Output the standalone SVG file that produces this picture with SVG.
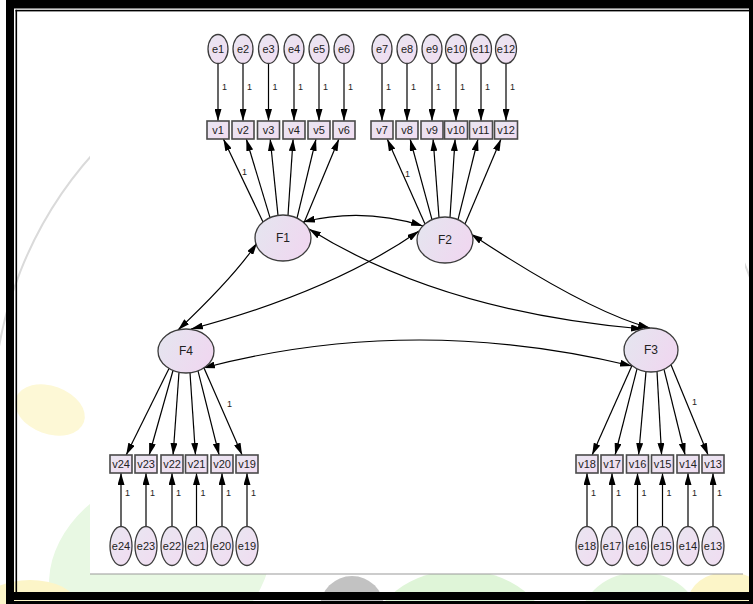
<svg xmlns="http://www.w3.org/2000/svg" width="753" height="604" viewBox="0 0 753 604">
  <defs>
    <linearGradient id="gLat" x1="0" y1="0" x2="1" y2="0.4">
      <stop offset="0" stop-color="#e4e6ef"/>
      <stop offset="1" stop-color="#efd8f0"/>
    </linearGradient>
    <linearGradient id="gObs" x1="0" y1="0" x2="1" y2="1">
      <stop offset="0" stop-color="#e9e6f1"/>
      <stop offset="1" stop-color="#f1dcf1"/>
    </linearGradient>
    <marker id="ah" viewBox="0 0 12 7" refX="12" refY="3.5" markerWidth="12" markerHeight="7" markerUnits="userSpaceOnUse" orient="auto-start-reverse">
      <path d="M0,0 L12,3.5 L0,7 z" fill="#000"/>
    </marker>
    <clipPath id="page"><rect x="0" y="0" width="753" height="604"/></clipPath>
  </defs>
  <style>
    .lat { fill: url(#gLat); stroke: #3c3c3c; stroke-width: 1.3; }
    .err { fill: url(#gObs); stroke: #3c3c3c; stroke-width: 1.3; }
    .obs { fill: url(#gObs); stroke: #4a4a4a; stroke-width: 1.6; }
    text { font-family: "Liberation Sans", Arial, sans-serif; fill: #222; }
    .t { font-size: 11px; text-anchor: middle; }
    .tf { font-size: 12px; text-anchor: middle; }
    .one { font-size: 9px; }
    .ln { fill: none; stroke: #000; stroke-width: 1.2; marker-end: url(#ah); }
    .cov { fill: none; stroke: #000; stroke-width: 1.2; marker-start: url(#ah); marker-end: url(#ah); }
  </style>

  <!-- page background with faint watermark -->
  <rect x="0" y="0" width="753" height="604" fill="#ffffff"/>
  <g id="watermark" clip-path="url(#page)">
    <path d="M-7,415 A391,391 0 0 1 775,415" fill="none" stroke="#dadada" stroke-width="2"/>
    <ellipse cx="50" cy="410" rx="36" ry="24" transform="rotate(20 50 410)" fill="#fdf8d6"/>
    <ellipse cx="160" cy="565" rx="115" ry="90" transform="rotate(-25 160 565)" fill="#e8f8e3"/>
    <circle cx="352" cy="608" r="32" fill="#c2c2c2"/>
    <ellipse cx="460" cy="640" rx="90" ry="70" fill="#dff5d8"/>
    <ellipse cx="640" cy="622" rx="60" ry="50" fill="#e3f6dd"/>
    <ellipse cx="728" cy="602" rx="40" ry="30" fill="#fcf5c8"/>
    <ellipse cx="30" cy="602" rx="45" ry="22" fill="#fcf5c8"/>
  </g>

  <!-- diagram sheet -->
  <rect x="90" y="11" width="655" height="563" fill="#ffffff"/>
  <line x1="90" y1="574" x2="743" y2="574" stroke="#9a9a9a" stroke-width="1.2"/>

  <!-- frame -->
  <g id="frame" fill="#000">
    <rect x="6" y="0" width="747" height="8.5"/>
    <rect x="6" y="0" width="8" height="604"/>
    <rect x="6" y="592" width="747" height="8"/>
    <rect x="6" y="601" width="747" height="3"/>
    <rect x="749" y="0" width="4" height="604"/>
    <rect x="15.5" y="9.8" width="733.5" height="1.6"/>
    <rect x="15.5" y="9.8" width="1.6" height="582.2"/>
  </g>

  <!-- connectors -->
  <g id="connectors">
    <!-- error terms to indicators -->
    <path class="ln" d="M218,63.5 L218,121"/>
    <path class="ln" d="M243,63.5 L243,121"/>
    <path class="ln" d="M268.5,63.5 L268.5,121"/>
    <path class="ln" d="M294,63.5 L294,121"/>
    <path class="ln" d="M319,63.5 L319,121"/>
    <path class="ln" d="M344,63.5 L344,121"/>
    <path class="ln" d="M382,63.5 L382,121"/>
    <path class="ln" d="M407,63.5 L407,121"/>
    <path class="ln" d="M432,63.5 L432,121"/>
    <path class="ln" d="M456,63.5 L456,121"/>
    <path class="ln" d="M481,63.5 L481,121"/>
    <path class="ln" d="M506,63.5 L506,121"/>
    <path class="ln" d="M121,526.5 L121,473"/>
    <path class="ln" d="M146,526.5 L146,473"/>
    <path class="ln" d="M172,526.5 L172,473"/>
    <path class="ln" d="M196.5,526.5 L196.5,473"/>
    <path class="ln" d="M222,526.5 L222,473"/>
    <path class="ln" d="M247,526.5 L247,473"/>
    <path class="ln" d="M587,526.5 L587,473"/>
    <path class="ln" d="M612,526.5 L612,473"/>
    <path class="ln" d="M637.5,526.5 L637.5,473"/>
    <path class="ln" d="M662.5,526.5 L662.5,473"/>
    <path class="ln" d="M688,526.5 L688,473"/>
    <path class="ln" d="M713,526.5 L713,473"/>

    <!-- factor loadings -->
    <path class="ln" d="M263,221.9 L223.4,139"/>
    <path class="ln" d="M270,217.6 L246.3,139"/>
    <path class="ln" d="M278,215.4 L270.2,139"/>
    <path class="ln" d="M288,215.4 L293.1,139"/>
    <path class="ln" d="M297,218.1 L316,139"/>
    <path class="ln" d="M304,222.8 L338.9,139"/>

    <path class="ln" d="M425,223.9 L387.2,139"/>
    <path class="ln" d="M432,219.6 L410.1,139"/>
    <path class="ln" d="M439,217.5 L433.1,139"/>
    <path class="ln" d="M450,217.4 L455.1,139"/>
    <path class="ln" d="M458,219.6 L478,139"/>
    <path class="ln" d="M465,223.9 L501,139"/>

    <path class="ln" d="M169,368.5 L126.2,455"/>
    <path class="ln" d="M173,370.5 L149.2,455"/>
    <path class="ln" d="M179,372.3 L173.1,455"/>
    <path class="ln" d="M190,372.8 L195.5,455"/>
    <path class="ln" d="M198,370.9 L219.1,455"/>
    <path class="ln" d="M204,367.9 L242.1,455"/>

    <path class="ln" d="M632,365.6 L592.1,455"/>
    <path class="ln" d="M637,368.8 L615.1,455"/>
    <path class="ln" d="M646,371.6 L638.6,455"/>
    <path class="ln" d="M657,371.4 L661.6,455"/>
    <path class="ln" d="M664,369.3 L685.1,455"/>
    <path class="ln" d="M671,364.8 L708.1,455"/>

    <!-- covariances -->
    <path class="cov" d="M303,222 Q363,207 423,226"/>
    <path class="cov" d="M178,330 Q234,277 257,243"/>
    <path class="cov" d="M419,231 Q331,292 191,329"/>
    <path class="cov" d="M309,229 Q442,312 643,329"/>
    <path class="cov" d="M471,234 Q587,311 650,328"/>
    <path class="cov" d="M203,368 Q413,313 632,366"/>

    <!-- fixed parameter labels -->
    <text class="one" x="222" y="90">1</text>
    <text class="one" x="247" y="90">1</text>
    <text class="one" x="272.5" y="90">1</text>
    <text class="one" x="298" y="90">1</text>
    <text class="one" x="323" y="90">1</text>
    <text class="one" x="348" y="90">1</text>
    <text class="one" x="386" y="90">1</text>
    <text class="one" x="411" y="90">1</text>
    <text class="one" x="436" y="90">1</text>
    <text class="one" x="460" y="90">1</text>
    <text class="one" x="485" y="90">1</text>
    <text class="one" x="510" y="90">1</text>
    <text class="one" x="125" y="496">1</text>
    <text class="one" x="150" y="496">1</text>
    <text class="one" x="176" y="496">1</text>
    <text class="one" x="200.5" y="496">1</text>
    <text class="one" x="226" y="496">1</text>
    <text class="one" x="251" y="496">1</text>
    <text class="one" x="591" y="496">1</text>
    <text class="one" x="616" y="496">1</text>
    <text class="one" x="641.5" y="496">1</text>
    <text class="one" x="666.5" y="496">1</text>
    <text class="one" x="692" y="496">1</text>
    <text class="one" x="717" y="496">1</text>
    <text class="one" x="242" y="175">1</text>
    <text class="one" x="405" y="177">1</text>
    <text class="one" x="227" y="407">1</text>
    <text class="one" x="692" y="405">1</text>
  </g>

  <!-- latent factors -->
  <g id="F1"><ellipse class="lat" cx="283" cy="238" rx="28" ry="23"/><text class="tf" x="283" y="242">F1</text></g>
  <g id="F2"><ellipse class="lat" cx="445" cy="240" rx="28" ry="23"/><text class="tf" x="445" y="244">F2</text></g>
  <g id="F3"><ellipse class="lat" cx="651" cy="350" rx="27" ry="22"/><text class="tf" x="651" y="354">F3</text></g>
  <g id="F4"><ellipse class="lat" cx="186" cy="351" rx="28" ry="22"/><text class="tf" x="186" y="355">F4</text></g>

  <!-- observed indicators, top row -->
  <g id="v1"><rect class="obs" x="207" y="121" width="22" height="18"/><text class="t" x="218" y="134">v1</text></g>
  <g id="v2"><rect class="obs" x="232" y="121" width="22" height="18"/><text class="t" x="243" y="134">v2</text></g>
  <g id="v3"><rect class="obs" x="257.5" y="121" width="22" height="18"/><text class="t" x="268.5" y="134">v3</text></g>
  <g id="v4"><rect class="obs" x="283" y="121" width="22" height="18"/><text class="t" x="294" y="134">v4</text></g>
  <g id="v5"><rect class="obs" x="308" y="121" width="22" height="18"/><text class="t" x="319" y="134">v5</text></g>
  <g id="v6"><rect class="obs" x="333" y="121" width="22" height="18"/><text class="t" x="344" y="134">v6</text></g>
  <g id="v7"><rect class="obs" x="371" y="121" width="22" height="18"/><text class="t" x="382" y="134">v7</text></g>
  <g id="v8"><rect class="obs" x="396" y="121" width="22" height="18"/><text class="t" x="407" y="134">v8</text></g>
  <g id="v9"><rect class="obs" x="421" y="121" width="22" height="18"/><text class="t" x="432" y="134">v9</text></g>
  <g id="v10"><rect class="obs" x="444.5" y="121" width="23" height="18"/><text class="t" x="456" y="134">v10</text></g>
  <g id="v11"><rect class="obs" x="469.5" y="121" width="23" height="18"/><text class="t" x="481" y="134">v11</text></g>
  <g id="v12"><rect class="obs" x="494.5" y="121" width="23" height="18"/><text class="t" x="506" y="134">v12</text></g>

  <!-- observed indicators, bottom row -->
  <g id="v24"><rect class="obs" x="110" y="455" width="22" height="18"/><text class="t" x="121" y="468">v24</text></g>
  <g id="v23"><rect class="obs" x="135" y="455" width="22" height="18"/><text class="t" x="146" y="468">v23</text></g>
  <g id="v22"><rect class="obs" x="161" y="455" width="22" height="18"/><text class="t" x="172" y="468">v22</text></g>
  <g id="v21"><rect class="obs" x="185.5" y="455" width="22" height="18"/><text class="t" x="196.5" y="468">v21</text></g>
  <g id="v20"><rect class="obs" x="211" y="455" width="22" height="18"/><text class="t" x="222" y="468">v20</text></g>
  <g id="v19"><rect class="obs" x="236" y="455" width="22" height="18"/><text class="t" x="247" y="468">v19</text></g>
  <g id="v18"><rect class="obs" x="576" y="455" width="22" height="18"/><text class="t" x="587" y="468">v18</text></g>
  <g id="v17"><rect class="obs" x="601" y="455" width="22" height="18"/><text class="t" x="612" y="468">v17</text></g>
  <g id="v16"><rect class="obs" x="626.5" y="455" width="22" height="18"/><text class="t" x="637.5" y="468">v16</text></g>
  <g id="v15"><rect class="obs" x="651.5" y="455" width="22" height="18"/><text class="t" x="662.5" y="468">v15</text></g>
  <g id="v14"><rect class="obs" x="677" y="455" width="22" height="18"/><text class="t" x="688" y="468">v14</text></g>
  <g id="v13"><rect class="obs" x="702" y="455" width="22" height="18"/><text class="t" x="713" y="468">v13</text></g>

  <!-- error terms, top row -->
  <g id="e1"><ellipse class="err" cx="218" cy="49" rx="10" ry="14.5"/><text class="t" x="218" y="53">e1</text></g>
  <g id="e2"><ellipse class="err" cx="243" cy="49" rx="10" ry="14.5"/><text class="t" x="243" y="53">e2</text></g>
  <g id="e3"><ellipse class="err" cx="268.5" cy="49" rx="10" ry="14.5"/><text class="t" x="268.5" y="53">e3</text></g>
  <g id="e4"><ellipse class="err" cx="294" cy="49" rx="10" ry="14.5"/><text class="t" x="294" y="53">e4</text></g>
  <g id="e5"><ellipse class="err" cx="319" cy="49" rx="10" ry="14.5"/><text class="t" x="319" y="53">e5</text></g>
  <g id="e6"><ellipse class="err" cx="344" cy="49" rx="10" ry="14.5"/><text class="t" x="344" y="53">e6</text></g>
  <g id="e7"><ellipse class="err" cx="382" cy="49" rx="10" ry="14.5"/><text class="t" x="382" y="53">e7</text></g>
  <g id="e8"><ellipse class="err" cx="407" cy="49" rx="10" ry="14.5"/><text class="t" x="407" y="53">e8</text></g>
  <g id="e9"><ellipse class="err" cx="432" cy="49" rx="10" ry="14.5"/><text class="t" x="432" y="53">e9</text></g>
  <g id="e10"><ellipse class="err" cx="456" cy="49" rx="10.5" ry="14.5"/><text class="t" x="456" y="53">e10</text></g>
  <g id="e11"><ellipse class="err" cx="481" cy="49" rx="10.5" ry="14.5"/><text class="t" x="481" y="53">e11</text></g>
  <g id="e12"><ellipse class="err" cx="506" cy="49" rx="10.5" ry="14.5"/><text class="t" x="506" y="53">e12</text></g>

  <!-- error terms, bottom row -->
  <g id="e24"><ellipse class="err" cx="121" cy="546" rx="11" ry="19.5"/><text class="t" x="121" y="550">e24</text></g>
  <g id="e23"><ellipse class="err" cx="146" cy="546" rx="11" ry="19.5"/><text class="t" x="146" y="550">e23</text></g>
  <g id="e22"><ellipse class="err" cx="172" cy="546" rx="11" ry="19.5"/><text class="t" x="172" y="550">e22</text></g>
  <g id="e21"><ellipse class="err" cx="196.5" cy="546" rx="11" ry="19.5"/><text class="t" x="196.5" y="550">e21</text></g>
  <g id="e20"><ellipse class="err" cx="222" cy="546" rx="11" ry="19.5"/><text class="t" x="222" y="550">e20</text></g>
  <g id="e19"><ellipse class="err" cx="247" cy="546" rx="11" ry="19.5"/><text class="t" x="247" y="550">e19</text></g>
  <g id="e18"><ellipse class="err" cx="587" cy="546" rx="11" ry="19.5"/><text class="t" x="587" y="550">e18</text></g>
  <g id="e17"><ellipse class="err" cx="612" cy="546" rx="11" ry="19.5"/><text class="t" x="612" y="550">e17</text></g>
  <g id="e16"><ellipse class="err" cx="637.5" cy="546" rx="11" ry="19.5"/><text class="t" x="637.5" y="550">e16</text></g>
  <g id="e15"><ellipse class="err" cx="662.5" cy="546" rx="11" ry="19.5"/><text class="t" x="662.5" y="550">e15</text></g>
  <g id="e14"><ellipse class="err" cx="688" cy="546" rx="11" ry="19.5"/><text class="t" x="688" y="550">e14</text></g>
  <g id="e13"><ellipse class="err" cx="713" cy="546" rx="11" ry="19.5"/><text class="t" x="713" y="550">e13</text></g>
</svg>
